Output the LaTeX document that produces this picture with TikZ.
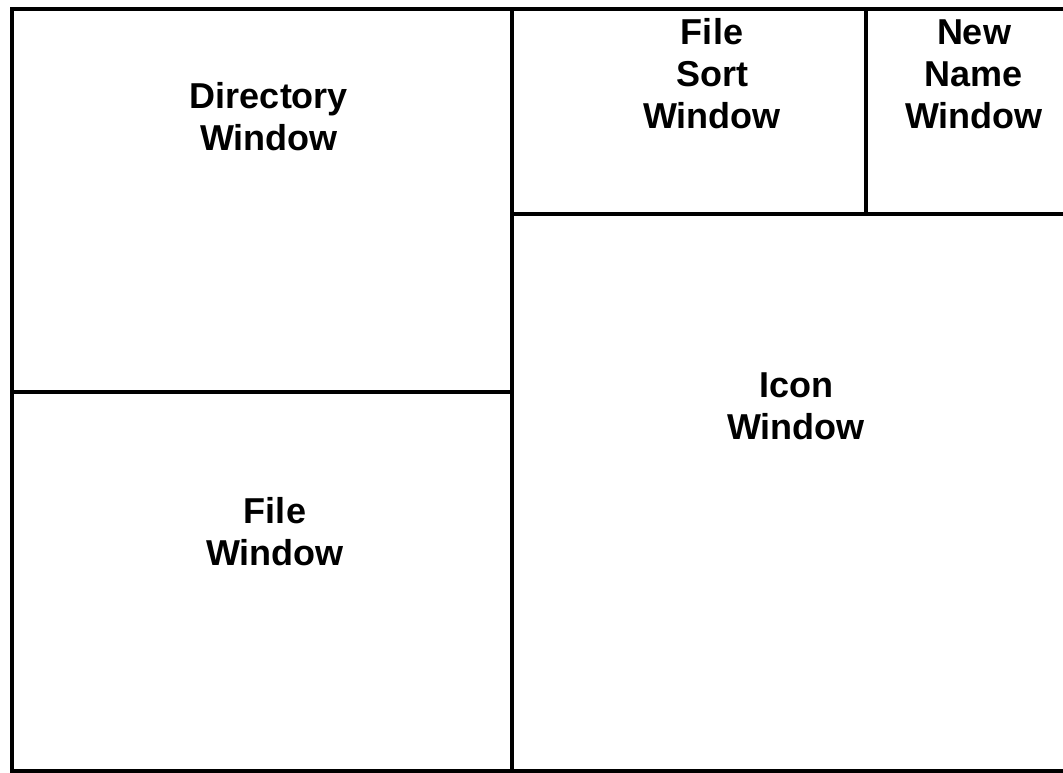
\documentclass[tikz,border=0pt]{standalone}
\usepackage{fontspec}
\setmainfont{Liberation Sans}
\begin{document}
\begin{tikzpicture}[x=1pt,y=-1pt,
  frame/.style={line width=3.5pt,line cap=rect,draw=black},
  lbl/.style={anchor=north,inner sep=0pt,align=center,font=\fontsize{36}{42}\selectfont\bfseries}]
\useasboundingbox (0,0) rectangle (1063,773);
% outer frame (right edge lies beyond the picture)
\draw[frame] (1070,9) -- (12,9) -- (12,771) -- (1070,771);
% dividers
\draw[frame] (512,9) -- (512,771);
\draw[frame] (12,392) -- (512,392);
\draw[frame] (512,214) -- (1070,214);
\draw[frame] (866,9) -- (866,214);
% labels
\node[lbl] (dir) at (269,82) {Directory\\Window};
\node[lbl] (file) at (275,497) {File\\Window};
\node[lbl] (sort) at (712,18) {File\\Sort\\Window};
\node[lbl] (newname) at (974,20) {New\\Name\\Window};
\node[lbl] (icon) at (796,373) {Icon\\Window};
\end{tikzpicture}
\end{document}
